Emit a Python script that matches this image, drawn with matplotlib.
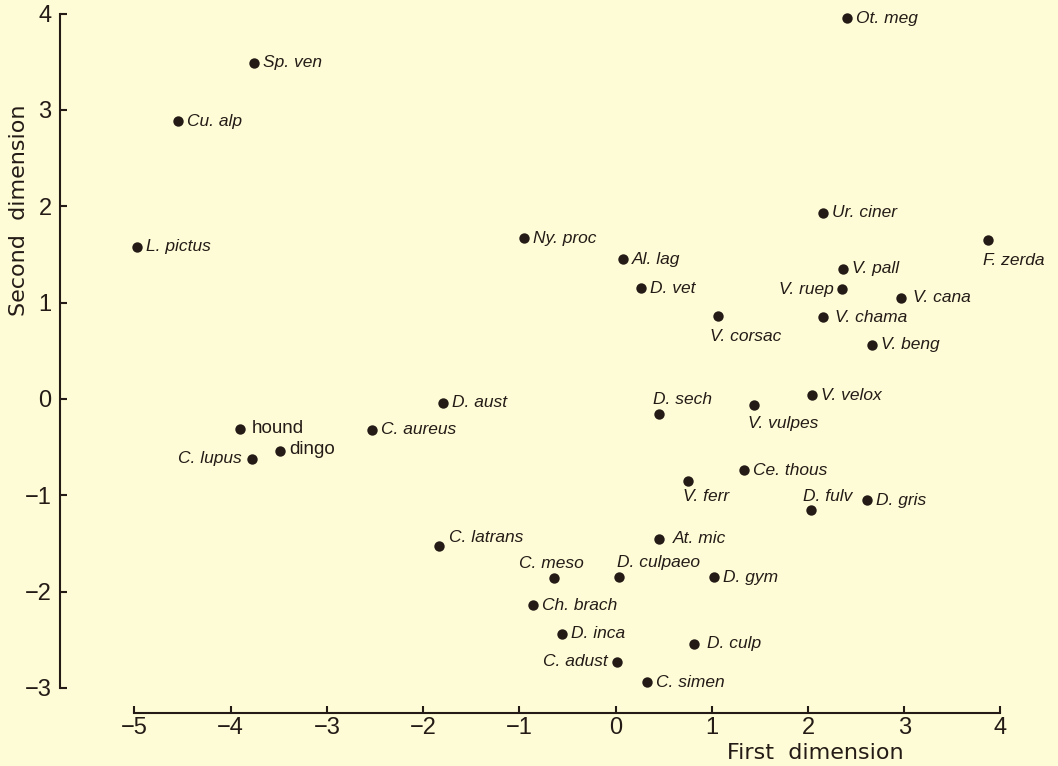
import matplotlib
matplotlib.use('Agg')
import matplotlib.pyplot as plt

# species positions on the two dimensions
names = ['Sp. ven', 'Cu. alp', 'L. pictus', 'Ot. meg', 'Ur. ciner', 'Ny. proc',
         'Al. lag', 'D. vet', 'V. pall', 'F. zerda', 'V. ruep', 'V. cana',
         'V. corsac', 'V. chama', 'V. beng', 'D. aust', 'hound', 'C. aureus',
         'dingo', 'C. lupus', 'D. sech', 'V. vulpes', 'V. velox', 'Ce. thous',
         'V. ferr', 'D. fulv', 'D. gris', 'C. latrans', 'At. mic', 'C. meso',
         'D. culpaeo', 'D. gym', 'Ch. brach', 'D. inca', 'D. culp', 'C. adust',
         'C. simen']
first_dim = [-3.76, -4.55, -4.97, 2.40, 2.16, -0.95,
             0.08, 0.26, 2.36, 3.87, 2.35, 2.97,
             1.06, 2.16, 2.66, -1.79, -3.90, -2.53,
             -3.49, -3.78, 0.45, 1.44, 2.04, 1.33,
             0.75, 2.03, 2.61, -1.84, 0.45, -0.64,
             0.04, 1.02, -0.86, -0.56, 0.81, 0.01,
             0.33]
second_dim = [3.49, 2.88, 1.58, 3.95, 1.93, 1.67,
              1.45, 1.15, 1.35, 1.65, 1.14, 1.05,
              0.86, 0.85, 0.56, -0.04, -0.31, -0.32,
              -0.54, -0.62, -0.16, -0.06, 0.04, -0.74,
              -0.85, -1.15, -1.05, -1.53, -1.45, -1.86,
              -1.85, -1.85, -2.14, -2.44, -2.54, -2.73,
              -2.94]
xticks = [-5, -4, -3, -2, -1, 0, 1, 2, 3, 4]
yticks = [-3, -2, -1, 0, 1, 2, 3, 4]

# label placement: (dx pt, dy pt, ha)
place = {
    'C. lupus': (-7, 0, 'right'), 'V. ruep': (-5.5, 0, 'right'),
    'C. adust': (-6.5, 0, 'right'),
    'F. zerda': (-3.6, -15, 'left'), 'V. corsac': (-5.8, -14.4, 'left'),
    'V. vulpes': (-4.3, -13.7, 'left'), 'V. ferr': (-3.6, -11.5, 'left'),
    'D. sech': (-4.3, 10.8, 'left'), 'D. fulv': (-5.8, 9.4, 'left'),
    'C. meso': (-2, 10.8, 'center'), 'D. culpaeo': (-1.4, 10.8, 'left'),
    'C. latrans': (7.2, 6.5, 'left'), 'At. mic': (10, 0, 'left'),
    'D. culp': (9.4, 0, 'left'), 'V. cana': (8.6, 0, 'left'),
    'V. chama': (8, 0, 'left'), 'hound': (8, 0.5, 'left'),
    'dingo': (7, 1, 'left'),
}
upright = ['hound', 'dingo']

bg = '#fefcd6'
ink = '#241b17'

fig = plt.figure(figsize=(10.58, 7.66), dpi=100, facecolor=bg)
ax = fig.add_axes([60 / 1058, 53 / 766, 998 / 1058, 713 / 766], facecolor=bg)
ax.set_xlim(-5.774, 4.598)
ax.set_ylim(-3.261, 4.141)

ax.scatter(first_dim, second_dim, s=56, color=ink, zorder=3, linewidths=0)

for n, x, y in zip(names, first_dim, second_dim):
    dx, dy, ha = place.get(n, (6.5, 0, 'left'))
    ax.annotate(n, (x, y), xytext=(dx, dy), textcoords='offset points',
                ha=ha, va='center', color=ink,
                family='Liberation Sans',
                style='normal' if n in upright else 'italic',
                fontsize=13.5 if n in upright else 12.5)

for side in ['top', 'right']:
    ax.spines[side].set_visible(False)
for side in ['left', 'bottom']:
    ax.spines[side].set_linewidth(1.5)
    ax.spines[side].set_color(ink)
ax.spines['bottom'].set_bounds(-5, 4)
ax.spines['left'].set_bounds(-3, 4)

ax.set_xticks(xticks)
ax.set_yticks(yticks)
ax.set_xticklabels([str(t).replace('-', '\u2212') for t in xticks])
ax.set_yticklabels([str(t).replace('-', '\u2212') for t in yticks])
ax.tick_params(direction='in', length=5, width=1.5, color=ink,
               labelcolor=ink, labelsize=17)
ax.tick_params(axis='x', pad=3)
ax.tick_params(axis='y', pad=6)
for lab in ax.get_xticklabels() + ax.get_yticklabels():
    lab.set_family('Liberation Sans')

ax.text(-0.041, 0.705, 'Second  dimension', transform=ax.transAxes,
        rotation=90, ha='center', va='center', fontsize=16, color=ink,
        family='DejaVu Sans')
ax.text(0.757, -0.056, 'First  dimension', transform=ax.transAxes,
        ha='center', va='center', fontsize=16, color=ink,
        family='DejaVu Sans')

fig.savefig('out.png', dpi=100, facecolor=bg)
